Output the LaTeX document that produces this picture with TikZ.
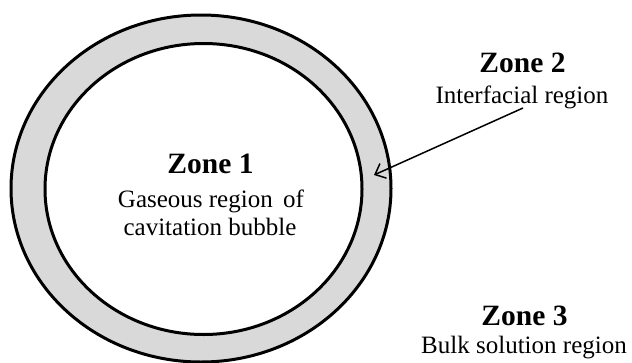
\documentclass[tikz,border=0pt]{standalone}
\usepackage{fontspec}
\setmainfont{Liberation Serif}
\usetikzlibrary{arrows.meta}
\begin{document}
\begin{tikzpicture}[x=1pt,y=-1pt,
  zonelbl/.style={anchor=base,inner sep=0pt,font=\fontsize{29.5}{29.5}\selectfont\bfseries},
  desclbl/.style={anchor=base,inner sep=0pt,font=\fontsize{25}{25}\selectfont},
  ring/.style={line width=3pt,draw=black}]
\useasboundingbox (0,0) rectangle (632,362);
\draw[ring,fill=black!15] (201,188.5) ellipse [x radius=190, y radius=173.5];
\draw[ring,fill=white] (203.5,189) ellipse [x radius=158.5, y radius=145.5];
\node[zonelbl] (z1) at (210.5,173) {Zone 1};
\node[desclbl] (z1a) at (211,207) {Gaseous region\, of};
\node[desclbl] (z1b) at (210,235) {cavitation bubble};
\node[zonelbl] (z2) at (522.5,72) {Zone 2};
\node[desclbl] (z2a) at (522,103) {Interfacial region};
\node[zonelbl] (z3) at (524.5,325) {Zone 3};
\node[desclbl] (z3a) at (524,353) {Bulk solution region};
\coordinate (as) at (523,108);
\coordinate (at) at (374,175);
\draw[line width=1.5pt,-{Straight Barb[length=9pt,width=16pt]}] (as) -- (at);
\end{tikzpicture}
\end{document}
